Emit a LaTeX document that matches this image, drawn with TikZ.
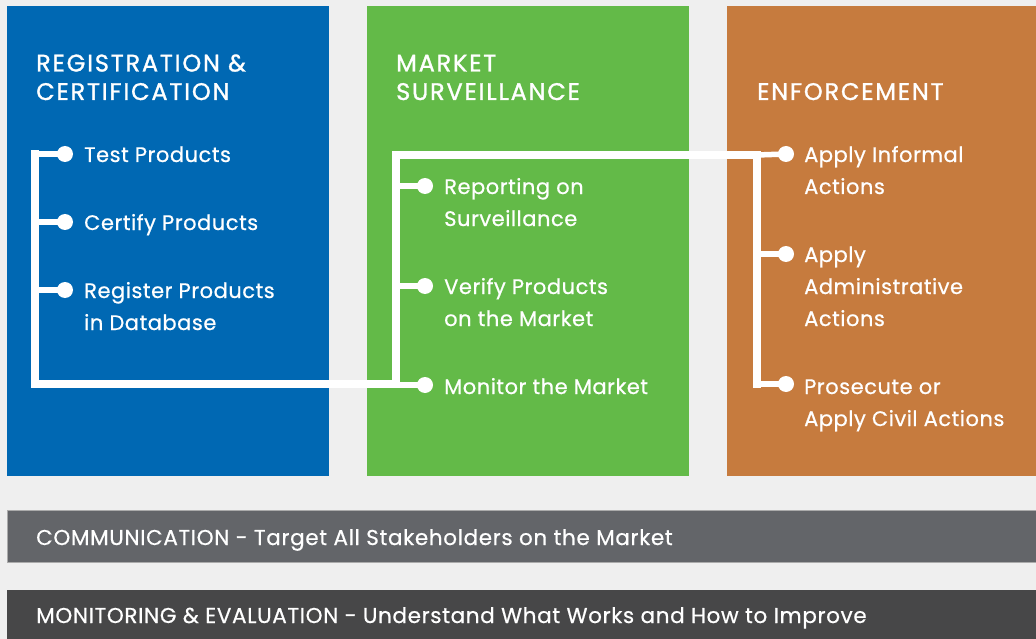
\documentclass[tikz,border=0pt]{standalone}
\usepackage{fontspec}
\setmainfont{Poppins}
\newfontfamily\itemfont{Poppins}[FakeBold=0.6,LetterSpace=2.5]
\newfontfamily\barfont{Poppins}[FakeBold=0.6,LetterSpace=3]
\newfontfamily\headfont{Poppins}[FakeBold=1.2,LetterSpace=7.5]
\definecolor{bg}{HTML}{EFEFEF}
\definecolor{cblue}{HTML}{0068B3}
\definecolor{cgreen}{HTML}{63BA48}
\definecolor{corange}{HTML}{C67B3E}
\definecolor{cgray}{HTML}{636569}
\definecolor{cgrayline}{HTML}{ABABAB}
\definecolor{cdark}{HTML}{474748}
\tikzset{
  head/.style={anchor=base west, inner sep=0pt, text=white, align=left,
    font=\headfont\fontsize{24}{28.5}\selectfont},
  item/.style={anchor=base west, inner sep=0pt, text=white, align=left,
    font=\itemfont\fontsize{21}{32}\selectfont},
  bartext/.style={anchor=base west, inner sep=0pt, text=white,
    font=\barfont\fontsize{21.5}{24}\selectfont},
  dot/.style={circle, fill=white, inner sep=0pt, minimum size=16pt},
  mainline/.style={draw=white, line width=8pt, line cap=rect, line join=miter},
  branch/.style={draw=white, line width=5.5pt}
}
\begin{document}
\begin{tikzpicture}[x=1pt,y=-1pt]
\fill[bg] (0,0) rectangle (1036,639);
\useasboundingbox (0,0) rectangle (1036,639);
% panels
\fill[cblue] (7,6) rectangle (329,476);
\fill[cgreen] (367,6) rectangle (689,476);
\fill[corange] (727,6) rectangle (1036,476);
\filldraw[fill=cgray, draw=cgrayline, line width=1pt] (7,510.5) rectangle (1040,562.5);
\fill[cdark] (7,590) rectangle (1036,639);
% headings (anchor = baseline of last line)
\node[head] (h1) at (36,100) {REGISTRATION \&\\CERTIFICATION};
\node[head] (h2) at (396,100) {MARKET\\SURVEILLANCE};
\node[head] (h3) at (757,100) {ENFORCEMENT};
% junction coordinates
\coordinate (bTop) at (35,154);
\coordinate (bBot) at (35,384);
\coordinate (gBot) at (396,384);
\coordinate (gTop) at (396,155);
\coordinate (oTop) at (757,155);
\coordinate (oBot) at (757,384);
\coordinate (bJ2) at (35,222);
\coordinate (bJ3) at (35,290);
\coordinate (gJ1) at (396,186);
\coordinate (gJ2) at (396,286);
\coordinate (gJ3) at (396,385);
\coordinate (oJ2) at (757,254);
% dots
\node[dot] (d1) at (65,154) {};
\node[dot] (d2) at (65,222) {};
\node[dot] (d3) at (65,290) {};
\node[dot] (d4) at (425,186) {};
\node[dot] (d5) at (425,286) {};
\node[dot] (d6) at (425,385) {};
\node[dot] (d7) at (786,154) {};
\node[dot] (d8) at (786,254) {};
\node[dot] (d9) at (786,384) {};
% connectors
\draw[mainline] (bTop) -- (bBot) -- (gBot) -- (gTop) -- (oTop) -- (oBot);
\draw[branch] (bTop) -- (d1.center);
\draw[branch] (bJ2) -- (d2.center);
\draw[branch] (bJ3) -- (d3.center);
\draw[branch] (gJ1) -- (d4.center);
\draw[branch] (gJ2) -- (d5.center);
\draw[branch] (gJ3) -- (d6.center);
\draw[branch] (oTop) -- (d7.center);
\draw[branch] (oJ2) -- (d8.center);
\draw[branch] (oBot) -- (d9.center);
% items (anchor = baseline of last line)
\node[item] (t1) at (84,162) {Test Products};
\node[item] (t2) at (84,230) {Certify Products};
\node[item] (t3) at (84,330) {Register Products\\in Database};
\node[item] (t4) at (444,226) {Reporting on\\Surveillance};
\node[item] (t5) at (444,326) {Verify Products\\on the Market};
\node[item] (t6) at (444,394) {Monitor the Market};
\node[item] (t7) at (804,194) {Apply Informal\\Actions};
\node[item] (t8) at (804,326) {Apply\\Administrative\\Actions};
\node[item] (t9) at (804,426) {Prosecute or\\Apply Civil Actions};
% bars
\node[bartext] (c1) at (36,545) {COMMUNICATION - Target All Stakeholders on the Market};
\node[bartext] (c2) at (36,623) {MONITORING \& EVALUATION - Understand What Works and How to Improve};
\end{tikzpicture}
\end{document}
